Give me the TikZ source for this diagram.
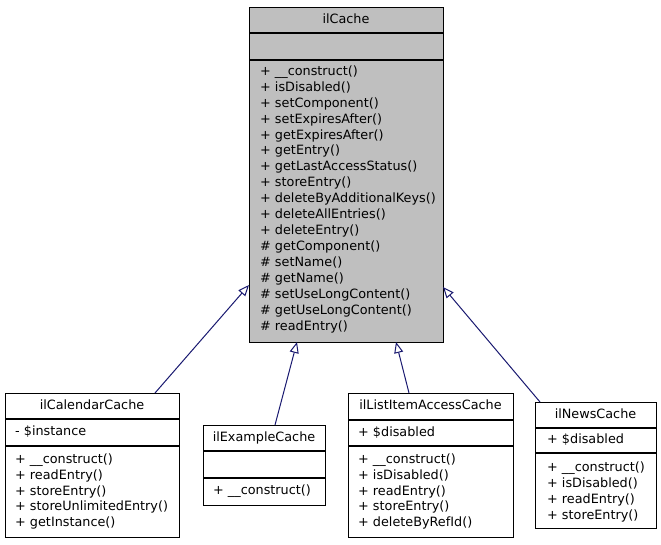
\documentclass[tikz,border=0pt]{standalone}
\usepackage{fontspec}
\setmainfont{DejaVu Sans}
\usetikzlibrary{arrows.meta,calc}
\definecolor{edgeblue}{RGB}{25,25,112}
\definecolor{basegray}{RGB}{191,191,191}
\begin{document}
\begin{tikzpicture}[x=1pt,y=-1pt,
  cls/.style={draw=black, line width=1pt, fill=white, inner sep=0pt, outer sep=0pt, anchor=north west},
  sepl/.style={draw=black, line width=1.3pt},
  txt/.style={inner sep=0pt, text height=9.5pt, text depth=3pt, font=\fontsize{12.8}{15}\selectfont},
  mem/.style={txt, anchor=west},
  ttl/.style={txt, anchor=center},
  inh/.style={draw=edgeblue, line width=1pt, -{Triangle[open,length=11pt,width=9pt]}}]
\useasboundingbox (0,0) rectangle (661,544);

% ---- ilCache
\node[cls, fill=basegray, minimum width=194pt, minimum height=335pt] (main) at (249,7) {};
\draw[sepl] ($(main.north west)+(0,26)$) -- ($(main.north east)+(0,26)$);
\draw[sepl] ($(main.north west)+(0,53)$) -- ($(main.north east)+(0,53)$);
\node[ttl] (mainT) at (346,20) {ilCache};
\foreach \t [count=\i from 0] in {+ \_\_construct(), + isDisabled(), + setComponent(), + setExpiresAfter(), + getExpiresAfter(), + getEntry(), + getLastAccessStatus(), + storeEntry(), + deleteByAdditionalKeys(), + deleteAllEntries(), + deleteEntry(), \# getComponent(), \# setName(), \# getName(), \# setUseLongContent(), \# getUseLongContent(), \# readEntry()}
  \node[mem] (mainM\i) at (260,72+15.94*\i) {\t};

% ---- ilCalendarCache
\node[cls, minimum width=174pt, minimum height=144pt] (cal) at (5,393) {};
\draw[sepl] ($(cal.north west)+(0,26)$) -- ($(cal.north east)+(0,26)$);
\draw[sepl] ($(cal.north west)+(0,53)$) -- ($(cal.north east)+(0,53)$);
\node[ttl] (calT) at (92,406) {ilCalendarCache};
\node[mem] (calA) at (15,432) {- \$instance};
\foreach \t [count=\i from 0] in {+ \_\_construct(), + readEntry(), + storeEntry(), + storeUnlimitedEntry(), + getInstance()}
  \node[mem] (calM\i) at (15,460+15.9*\i) {\t};

% ---- ilExampleCache
\node[cls, minimum width=122pt, minimum height=80pt] (ex) at (203,425) {};
\draw[sepl] ($(ex.north west)+(0,26)$) -- ($(ex.north east)+(0,26)$);
\draw[sepl] ($(ex.north west)+(0,53)$) -- ($(ex.north east)+(0,53)$);
\node[ttl] (exT) at (264,438) {ilExampleCache};
\node[mem] (exM0) at (213,491) {+ \_\_construct()};

% ---- ilListItemAccessCache
\node[cls, minimum width=165pt, minimum height=144pt] (list) at (348,393) {};
\draw[sepl] ($(list.north west)+(0,27)$) -- ($(list.north east)+(0,27)$);
\draw[sepl] ($(list.north west)+(0,53)$) -- ($(list.north east)+(0,53)$);
\node[ttl] (listT) at (430.5,406) {ilListItemAccessCache};
\node[mem] (listA) at (358,433) {+ \$disabled};
\foreach \t [count=\i from 0] in {+ \_\_construct(), + isDisabled(), + readEntry(), + storeEntry(), + deleteByRefId()}
  \node[mem] (listM\i) at (358,460+15.9*\i) {\t};

% ---- ilNewsCache
\node[cls, minimum width=121pt, minimum height=126pt] (news) at (535,402) {};
\draw[sepl] ($(news.north west)+(0,26)$) -- ($(news.north east)+(0,26)$);
\draw[sepl] ($(news.north west)+(0,51)$) -- ($(news.north east)+(0,51)$);
\node[ttl] (newsT) at (595.5,415) {ilNewsCache};
\node[mem] (newsA) at (547,440) {+ \$disabled};
\foreach \t [count=\i from 0] in {+ \_\_construct(), + isDisabled(), + readEntry(), + storeEntry()}
  \node[mem] (newsM\i) at (547,468+16*\i) {\t};

% ---- inheritance
\draw[inh] ($(cal.north west)+(150,0)$) -- ($(main.north west)+(0,278)$);
\draw[inh] ($(ex.north west)+(72,0)$) -- ($(main.south west)+(48,0)$);
\draw[inh] ($(list.north west)+(61,0)$) -- ($(main.south west)+(147,0)$);
\draw[inh] ($(news.north west)+(5,0)$) -- ($(main.north east)+(0,280)$);
\end{tikzpicture}
\end{document}
